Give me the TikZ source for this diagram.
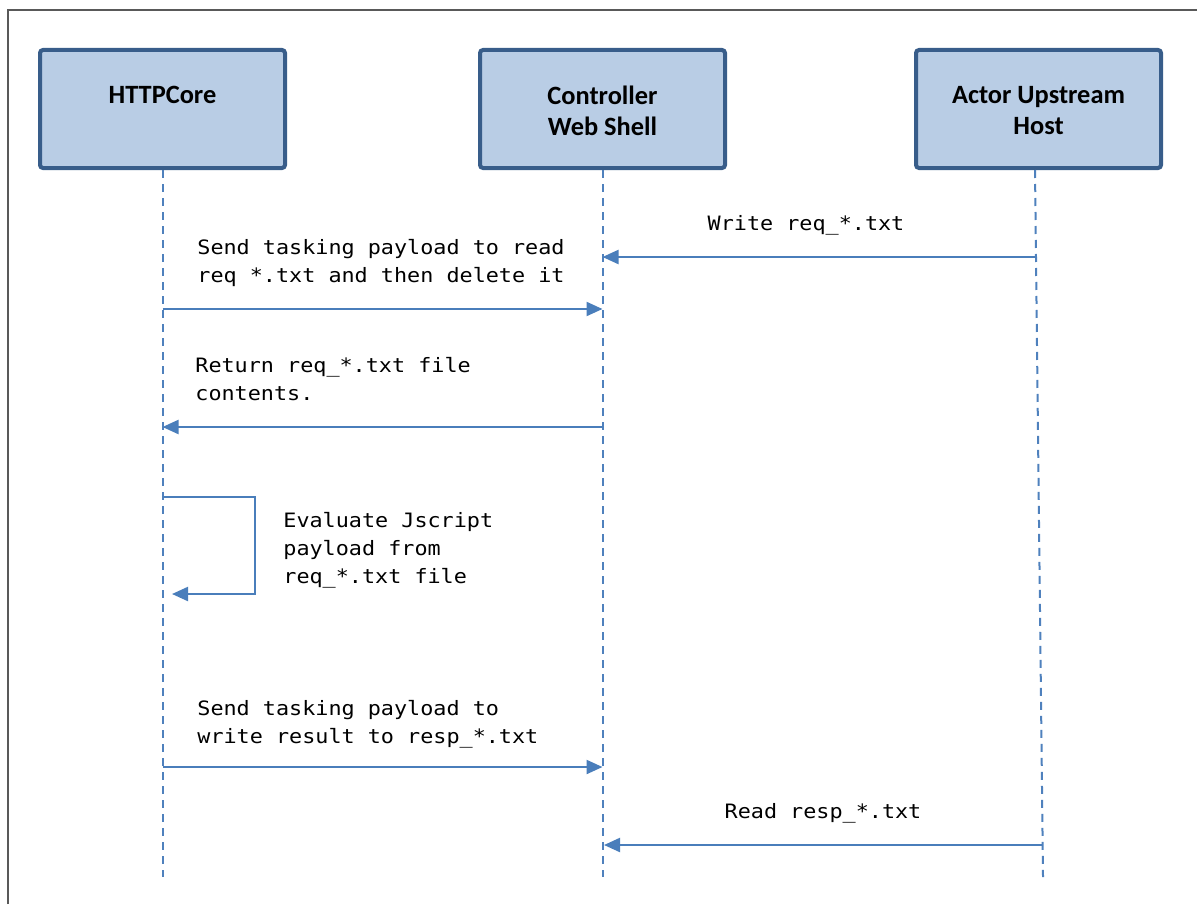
\documentclass[tikz,border=0pt]{standalone}
\usepackage{fontspec}
\newfontfamily\hdrfont{Carlito}
\newfontfamily\msgfont[FakeStretch=1.1]{DejaVu Sans Mono}
\usetikzlibrary{arrows.meta}
\definecolor{boxfill}{HTML}{B9CDE5}
\definecolor{boxline}{HTML}{385D8A}
\definecolor{lifeblue}{HTML}{4F81BD}
\definecolor{msgblue}{HTML}{4A7EBB}
\definecolor{frame}{HTML}{595959}

\begin{document}
\begin{tikzpicture}[x=0.5pt,y=-0.5pt,
  actor/.style={rectangle,draw=boxline,fill=boxfill,line width=2pt,rounded corners=1.5pt,minimum width=122.5pt,minimum height=59pt},
  hdr/.style={anchor=north,inner sep=0,yshift=-19pt,align=center,font=\hdrfont\bfseries\fontsize{13.2}{15.5}\selectfont},
  lifeline/.style={draw=lifeblue,line width=1pt,dash pattern=on 4pt off 3pt},
  msg/.style={draw=msgblue,line width=1.1pt,-{Triangle[length=8pt,width=7pt]}},
  msgtxt/.style={inner sep=0,align=left,font=\msgfont\fontsize{9.9}{14}\selectfont}]
\useasboundingbox (0,0) rectangle (1197,904);
\draw[frame,line width=1pt] (8,904) -- (8,10) -- (1197,10);

% actors
\node [actor,label={[hdr]north:HTTPCore}] (httpcore) at (162.5,109) {};
\node [actor,label={[hdr]north:{Controller\\Web Shell}}] (shell) at (602.5,109) {};
\node [actor,label={[hdr]north:{Actor Upstream\\Host}}] (upstream) at (1038.5,109) {};

% lifelines
\coordinate (hcEnd) at (162.5,877);
\coordinate (wsEnd) at (602.5,877);
\coordinate (upEnd) at (1043,877);
\draw [lifeline] (httpcore.south) -- (hcEnd);
\draw [lifeline] (shell.south) -- (wsEnd);
\draw [lifeline] (upstream.south -| 1035,0) -- (upEnd);

% message ends
\coordinate (up1) at (1035,257);
\coordinate (ws1) at (602.5,257);
\coordinate (hc2) at (162.5,309);
\coordinate (ws2) at (602.5,309);
\coordinate (ws3) at (602.5,427);
\coordinate (hc3) at (162.5,427);
\coordinate (hc4) at (162.5,497);
\coordinate (loopA) at (255,497);
\coordinate (loopB) at (255,594);
\coordinate (hc4b) at (172,594);
\coordinate (hc5) at (162.5,767);
\coordinate (ws5) at (602.5,767);
\coordinate (up6) at (1042,845);
\coordinate (ws6) at (604,845);

\draw [msg] (up1) -- (ws1);
\draw [msg] (hc2) -- (ws2);
\draw [msg] (ws3) -- (hc3);
\draw [msg] (hc4) -- (loopA) -- (loopB) -- (hc4b);
\draw [msg] (hc5) -- (ws5);
\draw [msg] (up6) -- (ws6);

% labels (base = last line)
\node [msgtxt,anchor=base] (t1) at (806,230) {Write req\_*.txt};
\node [msgtxt,anchor=base west] (t2) at (197,282) {Send tasking payload to read\\req *.txt and then delete it};
\node [msgtxt,anchor=base west] (t3) at (195,400) {Return req\_*.txt file\\contents.};
\node [msgtxt,anchor=base west] (t4) at (283,583) {Evaluate Jscript\\payload from\\req\_*.txt file};
\node [msgtxt,anchor=base west] (t5) at (197,743) {Send tasking payload to\\write result to resp\_*.txt};
\node [msgtxt,anchor=base] (t6) at (823,818) {Read resp\_*.txt};
\end{tikzpicture}
\end{document}
